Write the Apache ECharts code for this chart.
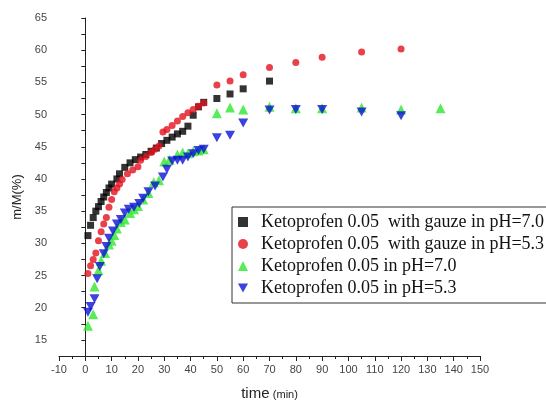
<!DOCTYPE html>
<html>
<head>
<meta charset="utf-8">
<script src="https://cdn.jsdelivr.net/npm/echarts@6/dist/echarts.min.js"></script>
<style>
  html, body { margin: 0; padding: 0; background: #fff; }
  #chart { width: 546px; height: 406px; }
</style>
</head>
<body>
<div id="chart"></div>
<script>
// [tiempo (min), m/M (%)]
const gauzePH70 = [
    [1, 31.2], [2, 32.8], [3, 34], [4, 35], [5, 35.7], [6, 36.5], [7, 37.2], [8, 37.9],
    [9, 38.6], [10, 39.2], [12, 40], [13, 40.8], [15, 41.8], [17, 42.5], [19, 43], [21, 43.4],
    [23, 43.8], [25, 44.3], [27, 44.8], [29, 45.5], [31, 46], [33, 46.5], [35, 47], [37, 47.4],
    [39, 48.2], [41, 49.9], [43, 51.2], [45, 51.9], [50, 52.5], [55, 53.2], [60, 54], [70, 55.2]
];
const gauzePH53 = [
    [1, 25.3], [2, 26.5], [3, 27.5], [4, 28.5], [5, 30.4], [6, 31.8], [7, 33], [8, 34],
    [9, 35.6], [10, 36.8], [11, 38], [12, 38.6], [13, 39.2], [14, 39.9], [16, 40.8], [18, 41.4],
    [20, 41.9], [21, 42.9], [23, 43.5], [25, 44.1], [26.5, 44.6], [28, 45.1], [29.5, 47.3], [31, 47.7],
    [33, 48.3], [35, 49], [37, 49.7], [39, 50.3], [41, 50.8], [43, 51.3], [45, 51.8], [50, 54.6],
    [55, 55.2], [60, 56.2], [70, 57.3], [80, 58.1], [90, 58.9], [105, 59.7], [120, 60.2]
];
const plainPH70 = [
    [1, 17.2], [3, 19], [3.5, 23.3], [5, 25.8], [6, 27.3], [7.5, 28.5], [9, 29.8], [10, 30.4],
    [11, 31.3], [12, 32.3], [13.5, 33.3], [15, 33.7], [17, 34.7], [18.5, 35.3], [20, 35.8], [22, 36.8],
    [24, 37.8], [26, 39.5], [28, 39.8], [30, 42.7], [32, 43], [35, 43.8], [37, 44.1], [39, 44],
    [41, 44.3], [43, 44.4], [45, 44.6], [50, 50.2], [55, 51.1], [60, 50.8], [70, 51.2], [80, 51],
    [90, 51], [105, 51.1], [120, 50.8], [135, 51]
];
const plainPH53 = [
    [1, 19.3], [2, 20.2], [3.5, 21.4], [4.5, 24.5], [5.5, 26.4], [7, 28.4], [8, 29.5], [9, 30.8],
    [10.5, 31.9], [12, 33], [13.5, 33.7], [15, 34.7], [16.5, 35.3], [18.5, 35.6], [20.5, 36.2], [22, 37],
    [24, 38], [26.5, 38.9], [29.5, 40.3], [31, 41.5], [33, 42.8], [35, 42.9], [37, 42.9], [39, 43.4],
    [41, 43.9], [43, 44.4], [45, 44.6], [50, 46.4], [55, 46.8], [60, 48.7], [70, 50.7], [80, 50.8],
    [90, 50.8], [105, 50.4], [120, 49.8]
];

const nombres = [
    'Ketoprofen 0.05  with gauze in pH=7.0',
    'Ketoprofen 0.05  with gauze in pH=5.3',
    'Ketoprofen 0.05 in pH=7.0',
    'Ketoprofen 0.05 in pH=5.3'
];

const trianguloAbajo = 'path://M0,0 L10,0 L5,9 Z';

var myChart = echarts.init(document.getElementById('chart'));
var option;

option = {
    animation: false,
    grid: { left: 59, right: 66, top: 18, bottom: 44 },
    legend: {
        orient: 'vertical',
        left: 232,
        top: 207,
        padding: [6, 8, 6, 6],
        itemGap: 4,
        itemWidth: 10,
        itemHeight: 10,
        borderColor: '#333',
        borderWidth: 1,
        textStyle: { fontFamily: 'Liberation Serif', fontSize: 18, color: '#111', padding: [0, 0, 0, 8] },
        data: [
            { name: nombres[0], icon: 'rect', itemStyle: { color: '#000' } },
            { name: nombres[1], icon: 'circle' },
            { name: nombres[2], icon: 'triangle' },
            { name: nombres[3], icon: trianguloAbajo }
        ]
    },
    xAxis: {
        type: 'value',
        min: -10,
        max: 150,
        interval: 10,
        name: '{a|time} {b|(min)}',
        nameLocation: 'middle',
        nameGap: 30,
        nameTextStyle: {
            rich: {
                a: { fontFamily: 'Liberation Sans', fontSize: 15, color: '#222' },
                b: { fontFamily: 'Liberation Sans', fontSize: 11, color: '#222', padding: [3, 0, 0, 0] }
            }
        },
        axisLine: { lineStyle: { color: '#222', width: 1 } },
        axisTick: { length: 5, lineStyle: { color: '#222' } },
        minorTick: { show: true, splitNumber: 2, length: 3, lineStyle: { color: '#222' } },
        splitLine: { show: false },
        axisLabel: { fontFamily: 'Liberation Sans', fontSize: 11, color: '#444', margin: 8 }
    },
    yAxis: {
        type: 'value',
        min: 12.5,
        max: 65,
        interval: 2.5,
        name: 'm/M(%)',
        nameLocation: 'middle',
        nameGap: 35,
        nameTextStyle: { fontFamily: 'Liberation Sans', fontSize: 13, color: '#222', padding: [0, 0, 0, -20] },
        axisLine: { show: true, lineStyle: { color: '#222', width: 1 } },
        axisTick: { length: 4, lineStyle: { color: '#222' } },
        splitLine: { show: false },
        axisLabel: {
            fontFamily: 'Liberation Sans',
            fontSize: 11,
            color: '#444',
            margin: 12,
            formatter: function (v) {
                return v % 5 === 0 ? String(v) : '';
            }
        }
    },
    series: [
        {
            name: nombres[0],
            type: 'scatter',
            symbol: 'rect',
            symbolSize: 7,
            itemStyle: { color: '#000' },
            data: gauzePH70
        },
        {
            name: nombres[1],
            type: 'scatter',
            symbol: 'circle',
            symbolSize: 7,
            itemStyle: { color: '#e3121c' },
            data: gauzePH53
        },
        {
            name: nombres[2],
            type: 'scatter',
            symbol: 'triangle',
            symbolSize: 10,
            itemStyle: { color: '#2ee82e' },
            data: plainPH70
        },
        {
            name: nombres[3],
            type: 'scatter',
            symbol: trianguloAbajo,
            symbolSize: [10, 9],
            itemStyle: { color: '#0c12d6' },
            data: plainPH53
        }
    ]
};

option && myChart.setOption(option);
</script>
</body>
</html>
